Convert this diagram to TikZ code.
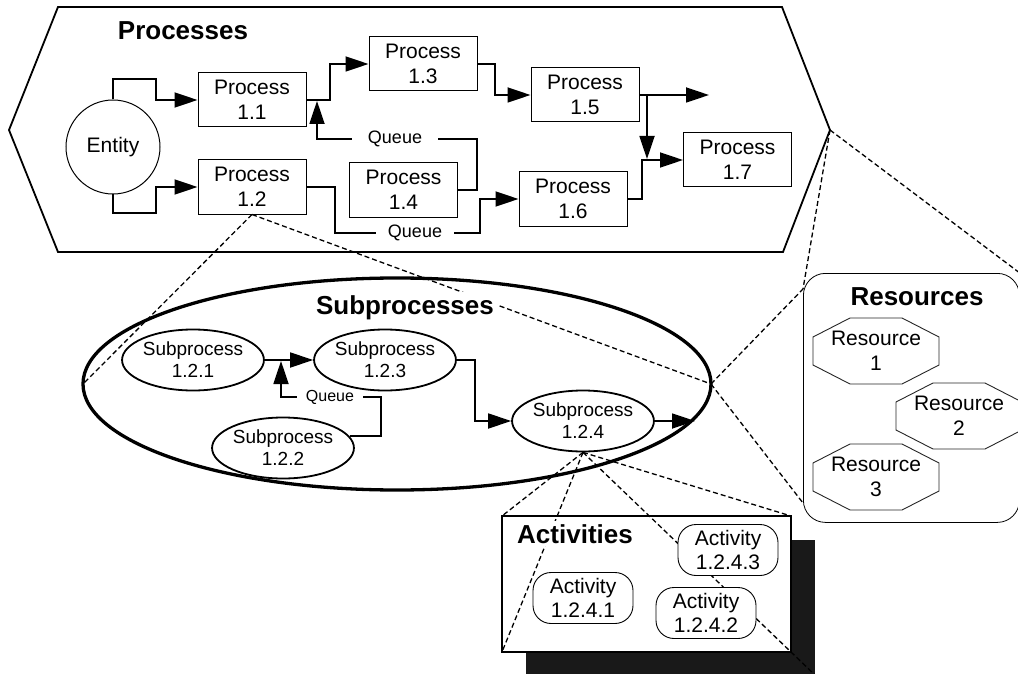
\documentclass[tikz,border=0pt]{standalone}
\usepackage{fontspec}
\setmainfont{Liberation Sans}
\usetikzlibrary{arrows.meta,shapes.geometric,calc}
\tikzset{
 proc/.style={draw, line width=1pt, fill=white, minimum width=108pt, minimum height=54pt, inner sep=0pt, align=center, font=\fontsize{21}{25}\selectfont},
 sub/.style={ellipse, draw, line width=1.8pt, fill=white, minimum width=140pt, minimum height=61pt, inner sep=0pt, align=center, font=\fontsize{19}{22}\selectfont},
 actnode/.style={rectangle, rounded corners=18pt, draw, line width=0.9pt, fill=white, minimum width=100pt, minimum height=51pt, inner sep=0pt, align=center, font=\fontsize{21}{24}\selectfont},
 reslab/.style={inner sep=0pt, align=center, font=\fontsize{21}{25}\selectfont},
 oct/.style={draw=black!85, line width=0.9pt},
 ttl/.style={font=\bfseries\fontsize{26}{30}\selectfont, fill=white, inner sep=3pt, anchor=base},
 wire/.style={line width=1.8pt},
 conn/.style={wire, -{Triangle[length=23pt,width=15pt]}},
 queue/.style={font=\fontsize{18}{20}\selectfont, inner ysep=0pt},
 proj/.style={line width=1.3pt, dash pattern=on 5pt off 3pt},
}
\begin{document}
\begin{tikzpicture}[x=1pt,y=-1pt]
\useasboundingbox (0,0) rectangle (1018,674);
\fill[white] (0,0) rectangle (1018,674);
\clip (0,0) rectangle (1018,674);

% Processes hexagon
\draw[line width=1.8pt] (58,7) -- (782,7) -- (830,130) coordinate (hexR) -- (783,252) -- (58,252) -- (9,130) -- cycle;

\node[circle, draw, line width=1pt, minimum size=94pt, inner sep=0pt, font=\fontsize{21}{25}\selectfont] (ent) at (113,147) {Entity};
\node[proc] (p11) at (252,100) {Process\\1.1};
\node[proc] (p12) at (252,187) {Process\\1.2};
\node[proc] (p13) at (423,64) {Process\\1.3};
\node[proc] (p14) at (403.5,190) {Process\\1.4};
\node[proc] (p15) at (585,95) {Process\\1.5};
\node[proc] (p16) at (573,199) {Process\\1.6};
\node[proc] (p17) at (737.5,160) {Process\\1.7};

\draw[conn] (ent.north) -- (113,79) -| (156,100) -- (p11.west);
\draw[conn] (ent.south) -- (113,213) -| (156,187) -- (p12.west);
\draw[conn] (p11.east) -| (330,64) -- (p13.west);
\node[queue, inner xsep=16pt] (q1) at (395,139) {Queue};
\draw[wire] (p14.east) -| (477,139) -- (q1.east);
\draw[conn] (q1.west) -| (317,101);
\node[queue, inner xsep=12pt] (q2) at (415,233) {Queue};
\draw[wire] (p12.east) -| (335,233) -- (q2.west);
\draw[conn] (q2.east) -| (480,199) -- (p16.west);
\draw[conn] (p13.east) -| (495,95) -- (p15.west);
\coordinate (out) at (709,95);
\draw[conn] (p15.east) -- (out);
\coordinate (split) at (647,95);
\coordinate (merge) at (647,159);
\draw[conn] (split) -- (merge);
\draw[conn] (p16.east) -| (642,160) -- (p17.west);

% Subprocesses
\node[ellipse, draw, line width=3.3pt, minimum width=628pt, minimum height=212pt, inner sep=0pt, outer sep=0pt] (subE) at (397,384) {};
\node[sub] (s121) at (193,360) {Subprocess\\1.2.1};
\node[sub] (s123) at (385,360) {Subprocess\\1.2.3};
\node[sub] (s122) at (283,448) {Subprocess\\1.2.2};
\node[sub] (s124) at (583,421) {Subprocess\\1.2.4};
\draw[conn] (s121.east) -- (s123.west);
\node[queue, font=\fontsize{16}{18}\selectfont, inner xsep=9pt] (qs) at (330,397) {Queue};
\draw[wire] (s122.10) -| (381,397) -- (qs.east);
\draw[conn] (qs.west) -| (281,361);
\draw[conn] (s123.east) -| (475,421) -- (s124.west);
\coordinate (subout) at (695,421);
\draw[conn] (s124.east) -- (subout);

% Resources
\node[draw, line width=0.8pt, rounded corners=22pt, minimum width=216pt, minimum height=249pt, inner sep=0pt, anchor=north west] (resbox) at (803,273) {};
\node[ttl] (restitle) at (917,305) {Resources};
\node[reslab] (r1) at (876,351) {Resource\\1};
\node[reslab] (r2) at (959,416) {Resource\\2};
\node[reslab] (r3) at (876,477) {Resource\\3};
\foreach \n in {r1,r2,r3}
 \draw[oct] ([shift={(-26,-33)}]\n.center) -- ([shift={(26,-33)}]\n.center) -- ([shift={(63,-14)}]\n.center) -- ([shift={(63,14)}]\n.center) -- ([shift={(26,33)}]\n.center) -- ([shift={(-26,33)}]\n.center) -- ([shift={(-63,14)}]\n.center) -- ([shift={(-63,-14)}]\n.center) -- cycle;

% Activities
\fill[black!90] (526,540) rectangle (815,676);
\node[draw, line width=1.5pt, fill=white, minimum width=289pt, minimum height=136pt, inner sep=0pt, outer sep=0pt, anchor=north west] (actbox) at (502,516) {};

% projection lines
\coordinate (rtl) at (803,289);
\coordinate (rbl) at (803,503);
\draw[proj] (p12.south) -- (subE.west);
\draw[proj] (p12.south) -- (subE.east);
\draw[proj] (hexR) -- (resbox.north east);
\draw[proj] (hexR) -- (rtl);
\draw[proj] (subE.east) -- (rtl);
\draw[proj] (subE.east) -- (rbl);
\draw[proj] (s124.south) -- (actbox.north west);
\draw[proj] (s124.south) -- (actbox.south west);
\draw[proj] (s124.south) -- (actbox.north east);
\draw[proj] (s124.south) -- ($(s124.south)!1.12!(actbox.south east)$);

% titles and activities
\node[ttl] (ptitle) at (183,40) {Processes};
\node[ttl] (stitle) at (405,314) {Subprocesses};
\node[ttl] (atitle) at (575,543) {Activities};
\node[actnode] (a1) at (583,598) {Activity\\1.2.4.1};
\node[actnode] (a3) at (728,550) {Activity\\1.2.4.3};
\node[actnode] (a2) at (706,613) {Activity\\1.2.4.2};
\end{tikzpicture}
\end{document}
